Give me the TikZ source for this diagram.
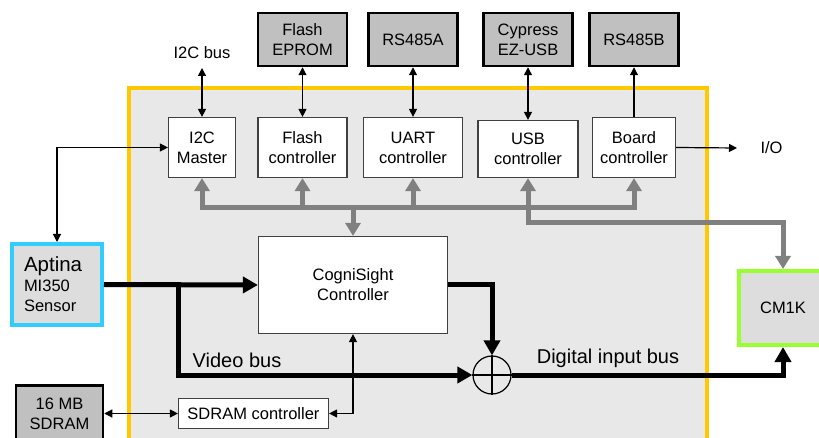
\documentclass[tikz,border=0pt]{standalone}
\usepackage{fontspec}
\setmainfont{Liberation Sans}
\usepackage{tikz}
\usetikzlibrary{shapes}
\usetikzlibrary{arrows.meta}
\usetikzlibrary{positioning}

\definecolor{framey}{HTML}{FFC800}
\definecolor{framebg}{HTML}{E8E8E8}
\definecolor{chipgray}{HTML}{C0C0C0}
\definecolor{sensorbg}{HTML}{DDDDDD}
\definecolor{sensorblue}{HTML}{33CCFF}
\definecolor{cmgreen}{HTML}{99FF33}
\definecolor{busgray}{HTML}{808080}

\begin{document}
\begin{tikzpicture}[x=1pt,y=-1pt,font=\fontsize{16.5}{20}\selectfont]
\tikzstyle{chip}=[rectangle,draw=black,fill=chipgray,line width=2.5pt,
inner sep=0pt,minimum width=89pt,minimum height=53pt,align=center]
\tikzstyle{ctrl}=[rectangle,draw=black!75,fill=white,line width=1.2pt,
inner sep=0pt,minimum height=60pt,align=center]
\tikzstyle{slink}=[line width=1.2pt,-{Triangle[length=8pt,width=8pt]}]
\tikzstyle{dlink}=[line width=1.2pt,{Triangle[length=8pt,width=8pt]}-{Triangle[length=8pt,width=8pt]}]
\tikzstyle{bus}=[line width=5pt,-{Triangle[length=15pt,width=16pt]}]
\tikzstyle{gbus}=[draw=busgray,line width=5pt]
\tikzstyle{gtip}=[-{Triangle[length=13pt,width=15pt]}]
\tikzstyle{buslabel}=[font=\fontsize{20}{24}\selectfont]

\useasboundingbox (0,0) rectangle (819,438);

% board frame
\draw[draw=framey,fill=framebg,line width=4.5pt] (129,88) rectangle (707,470);

% external chips
\node[chip] (eprom) at (302.5,39.5) {Flash\\EPROM};
\node[chip] (rsa) at (413,39.5) {RS485A};
\node[chip] (ezusb) at (528,39.5) {Cypress\\EZ-USB};
\node[chip] (rsb) at (634,39.5) {RS485B};
\node[chip,minimum width=87pt,minimum height=56pt] (sdram) at (59.5,413.5) {16 MB\\SDRAM};

% controllers
\node[ctrl,minimum width=67pt] (i2c) at (202,147.5) {I2C\\Master};
\node[ctrl,minimum width=89pt] (flashc) at (302.5,147.5) {Flash\\controller};
\node[ctrl,minimum width=99pt] (uart) at (413,147.5) {UART\\controller};
\node[ctrl,minimum width=100pt,minimum height=57pt] (usb) at (528,149) {USB\\controller};
\node[ctrl,minimum width=83pt] (board) at (634,147.5) {Board\\controller};
\node[ctrl,minimum width=189pt,minimum height=97pt] (cogni) at (353,285) {CogniSight\\Controller};
\node[ctrl,minimum width=150pt,minimum height=30pt] (sdramc) at (253.5,413.5) {SDRAM controller};

% sensor and cm1k
\node[rectangle,draw=sensorblue,fill=sensorbg,line width=4pt,minimum width=90pt,
minimum height=81pt,text width=66pt,inner xsep=12pt,inner ysep=0pt,align=left]
(aptina) at (57,284.5) {{\fontsize{20.5}{22}\selectfont Aptina}\\MI350\\Sensor};
\node[rectangle,draw=cmgreen,fill=sensorbg,line width=4pt,minimum width=88pt,
minimum height=74pt] (cm1k) at (783,308) {CM1K};

% adder
\node[circle,draw,line width=1.2pt,minimum size=38pt,inner sep=0pt] (plus) at (492,375) {};
\draw[line width=1.2pt] (plus.north) -- (plus.south) (plus.west) -- (plus.east);

% labels
\coordinate (i2ctip) at (202,68);
\node (i2cbus) [above=5.5pt of i2ctip] {I2C bus};
\coordinate (iotip) at (737,148);
\node (io) [right=20pt of iotip] {I/O};
\node[buslabel] (videobus) at (237,360) {Video bus};
\node[buslabel] (digitalbus) at (608,358) {Digital input bus};

% thin links
\draw[dlink] (i2ctip) -- (i2c.north);
\draw[dlink] (eprom.south) -- (flashc.north);
\draw[dlink] (rsa.south) -- (uart.north);
\draw[dlink] (ezusb.south) -- (usb.north);
\draw[slink] (board.north) -- (rsb.south);
\draw[slink] (board.east) -- (iotip);
\draw[dlink] (i2c.west) -| (aptina.north);
\draw[dlink] (sdram.east) -- (sdramc.west);
\draw[dlink] (sdramc.east) -| (cogni.south);

% control bus
\coordinate (busl) at (202,207.5);
\coordinate (busr) at (634,207.5);
\coordinate (usbturn) at (528,223);
\draw[gbus,{Triangle[length=13pt,width=15pt]}-{Triangle[length=13pt,width=15pt]}]
(i2c.south) -- (busl) -- (busr) -- (board.south);
\foreach \c in {flashc,uart,usb}
\draw[gbus,gtip] (\c.south |- busl) -- (\c.south);
\draw[gbus,gtip] (cogni.north |- busl) -- (cogni.north);
\draw[gbus,gtip] (usb.south |- busl) -- (usbturn) -| (cm1k.north);

% video and digital input bus
\coordinate (split) at (178,284.5);
\draw[bus] (aptina.east) -- (cogni.west);
\draw[bus] (split) |- (plus.west);
\draw[bus] (cogni.east) -| (plus.north);
\draw[bus] (plus.east) -| (cm1k.south);
\end{tikzpicture}
\end{document}
